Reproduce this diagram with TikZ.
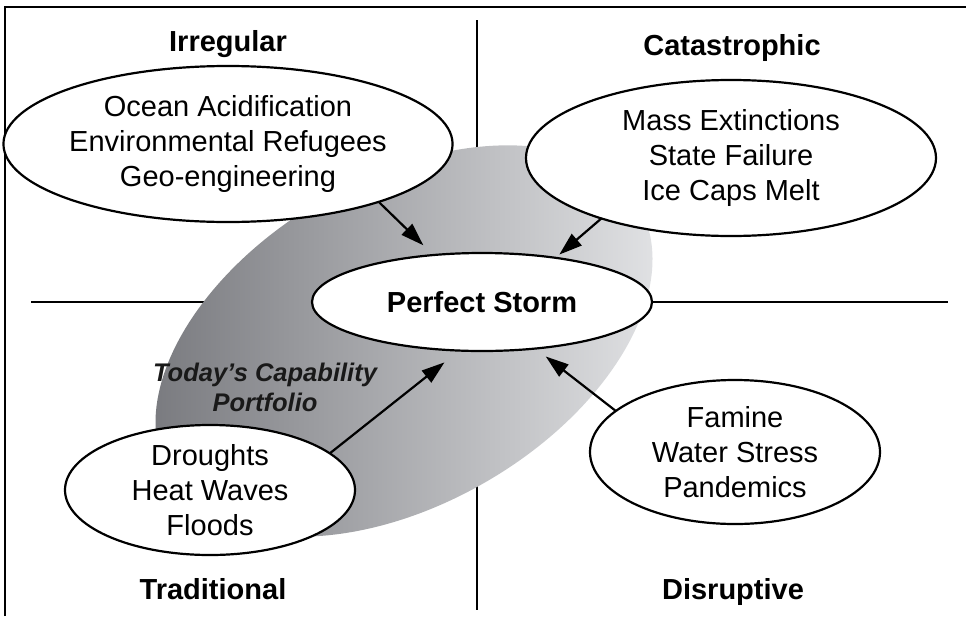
\documentclass[tikz,border=0pt]{standalone}
\usepackage{fontspec}
\setmainfont{Liberation Sans}
\usetikzlibrary{shapes.geometric,arrows.meta}
\definecolor{stormdark}{RGB}{116,117,122}
\definecolor{stormlight}{RGB}{230,231,233}

\begin{document}
\begin{tikzpicture} [x=1pt, y=-1pt, line width=2.2pt,
  main/.style = {draw, ellipse, fill=white, align=center, inner xsep=0pt, inner ysep=-6pt, outer sep=0pt, font=\fontsize{29}{35}\selectfont},
  quad/.style = {anchor=base, font=\bfseries\fontsize{29}{35}\selectfont},
  push/.style = {-{Triangle[length=23pt,width=15pt]}}]
\useasboundingbox (0,0) rectangle (966,616);
% frame and quadrant lines
\draw (5,616) -- (5,7) -- (966,7);
\draw (477,20) -- (477,610);
\draw (31,302) -- (948,302);
% capability portfolio
\shade[left color=stormdark, right color=stormlight] (404,341) ellipse [x radius=271pt, y radius=163pt, rotate=30];
\node[main, minimum width=410pt, minimum height=156pt] (ir) at (228,144) {Ocean Acidification\\Environmental Refugees\\Geo-engineering};
\node[main, minimum width=410pt, minimum height=156pt] (ca) at (731,158) {Mass Extinctions\\State Failure\\Ice Caps Melt};
\node[main, minimum width=340pt, minimum height=98pt, font=\bfseries\fontsize{29}{35}\selectfont] (ps) at (482,302) {Perfect Storm};
\node[main, minimum width=290pt, minimum height=130pt] (tr) at (210,490) {Droughts\\Heat Waves\\Floods};
\node[main, minimum width=290pt, minimum height=144pt] (di) at (735,452) {Famine\\Water Stress\\Pandemics};
\node[align=center, text=black!90, font=\bfseries\itshape\fontsize{25.5}{30}\selectfont] (cap) at (265,387) {Today's Capability\\Portfolio};
% quadrant names
\node[quad] (q1) at (228,51) {Irregular};
\node[quad] (q2) at (732,55) {Catastrophic};
\node[quad] (q3) at (213,599) {Traditional};
\node[quad] (q4) at (733,599) {Disruptive};
% arrows into the storm
\draw[push, shorten >=14pt] (ir.-21) -- (ps.136);
\draw[push, shorten >=5pt] (ca.205) -- (ps.31);
\draw[push, shorten >=19pt] (tr.17) -- (ps.-115);
\draw[push, shorten >=13pt] (di.161) -- (ps.-41);
\end{tikzpicture}
\end{document}
